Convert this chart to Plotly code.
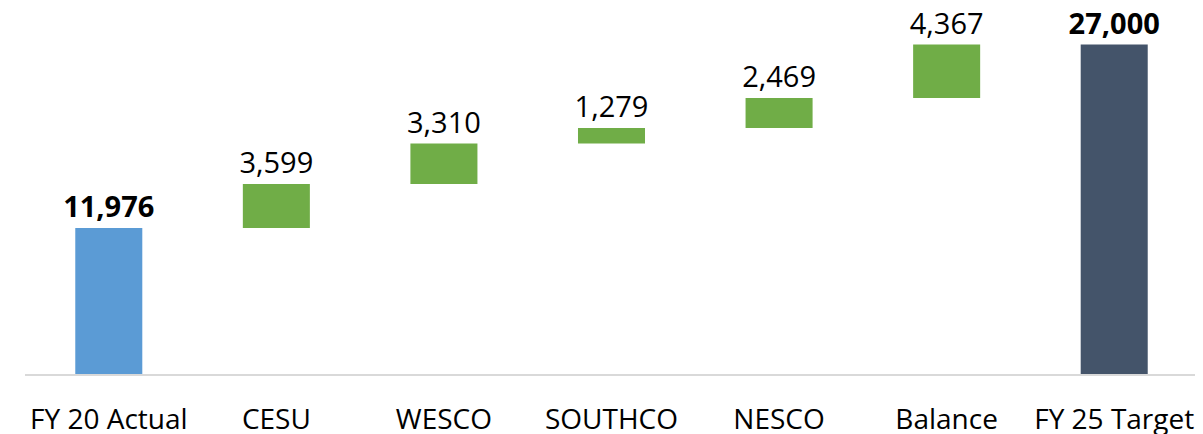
import plotly.graph_objects as go

categories = ["FY 20 Actual", "CESU", "WESCO", "SOUTHCO", "NESCO", "Balance", "FY 25 Target"]
values = [11976, 3599, 3310, 1279, 2469, 4367, 27000]
kinds = ["total", "step", "step", "step", "step", "step", "total"]
colors = {"first": "#5B9BD5", "step": "#70AD47", "last": "#44546A"}

bases, heights, cols, texts = [], [], [], []
running = 0
for i, (v, k) in enumerate(zip(values, kinds)):
    if k == "total":
        bases.append(0)
        heights.append(v)
        running = v
        cols.append(colors["first"] if i == 0 else colors["last"])
        texts.append(f"<b>{v:,}</b>")
    else:
        bases.append(running)
        heights.append(v)
        running += v
        cols.append(colors["step"])
        texts.append(f"{v:,}")

fig = go.Figure(go.Bar(
    x=categories, y=heights, base=bases,
    marker=dict(color=cols, line=dict(width=0)),
    text=texts, textposition="outside", cliponaxis=False, constraintext="none",
    textfont=dict(family="Open Sans", size=29, color="#000000"),
    width=0.4,
))

# page body has an 8px margin, so the figure is sized to fill the rest of the window
fig.update_layout(
    width=1195, height=426,
    margin=dict(l=17, r=5, t=0, b=60, autoexpand=False),
    plot_bgcolor="white", paper_bgcolor="white",
    showlegend=False,
    font=dict(family="Open Sans", size=28, color="#000000"),
)
fig.update_xaxes(showline=True, linecolor="#D9D9D9", linewidth=2, showgrid=False,
                 automargin=False,
                 ticks="outside", ticklen=19, tickcolor="rgba(0,0,0,0)",
                 tickfont=dict(family="Open Sans", size=28, color="#000000"))
fig.update_yaxes(range=[0, 30000], visible=False, showgrid=False, zeroline=False, automargin=False)

fig.write_html("out.html")
